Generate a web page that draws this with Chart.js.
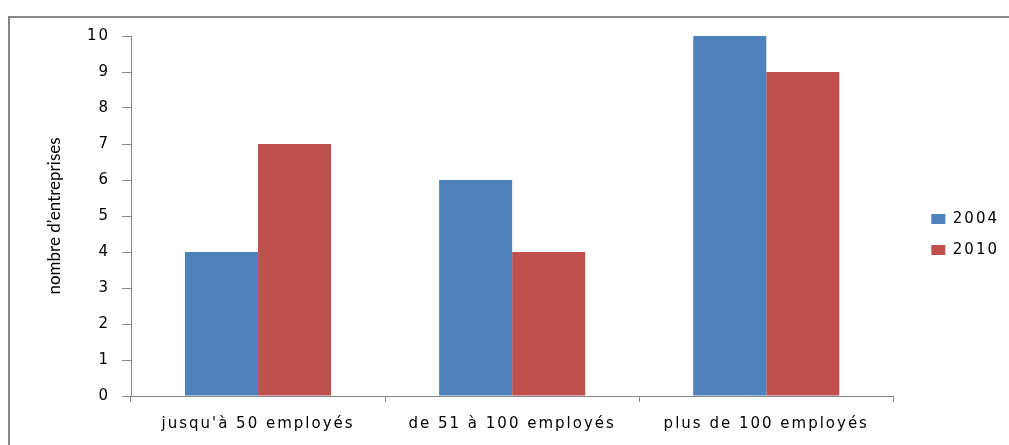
<!DOCTYPE html>
<html lang="fr">
<head>
<meta charset="utf-8">
<title>Nombre d'entreprises par taille</title>
<script src="https://cdn.jsdelivr.net/npm/chart.js@4/dist/chart.umd.min.js"></script>
<style>
  html, body { margin: 0; padding: 0; background: #ffffff; overflow: hidden; }
  canvas { display: block; }
</style>
</head>
<body>
<canvas id="chart" width="1009" height="445"></canvas>
<script>
// Company size classes (x axis)
const categories = ["jusqu'à 50 employés", "de 51 à 100 employés", "plus de 100 employés"];
// Survey years
const years = ['2004', '2010'];
// Number of companies per size class
const values2004 = [4, 6, 10];
const values2010 = [7, 4, 9];
// Y axis range
const yTicks = [0, 1, 2, 3, 4, 5, 6, 7, 8, 9, 10];

const FRAME = '#868686';
const TEXT_SPACING = '2px';

// Wide letter spacing for the axis and legend text
function applySpacing(chart) { chart.ctx.letterSpacing = TEXT_SPACING; }
const textSpacing = {
  id: 'textSpacing',
  beforeUpdate: applySpacing,
  beforeLayout: applySpacing,
  beforeDraw: applySpacing,
  afterUpdate(chart) {
    const y = chart.scales.y;
    if (y && !y._plainTitle) {
      const orig = y.drawTitle;
      y.drawTitle = function () {
        const c = this.ctx;
        const prev = c.letterSpacing;
        c.letterSpacing = '0px';
        orig.call(this);
        c.letterSpacing = prev;
      };
      y._plainTitle = true;
    }
  }
};

// Empty layout box keeping a gap between the plot and the legend
const legendGap = {
  id: 'legendGap',
  beforeInit(chart) {
    Chart.layouts.addBox(chart, {
      position: 'right',
      weight: 0,
      fullSize: false,
      options: {},
      width: 22,
      height: 0,
      isHorizontal() { return false; },
      update(maxWidth, maxHeight) { this.width = 22; this.height = maxHeight; },
      getPadding() { return { left: 0, right: 0, top: 0, bottom: 0 }; },
      draw() {}
    });
  }
};

// Outer frame: top and left edges, drawn as filled strips
const frame = {
  id: 'frame',
  beforeDraw(chart) {
    const ctx = chart.ctx;
    ctx.save();
    ctx.fillStyle = FRAME;
    ctx.fillRect(8, 16, chart.width - 8, 2);
    ctx.fillRect(8, 16, 2, chart.height - 16);
    ctx.restore();
  }
};

const tickFont = { family: "'DejaVu Sans', sans-serif", size: 15 };

new Chart(document.getElementById('chart'), {
  type: 'bar',
  data: {
    labels: categories,
    datasets: [
      { label: years[0], data: values2004, backgroundColor: '#4F81BD', borderWidth: 0 },
      { label: years[1], data: values2010, backgroundColor: '#C0504D', borderWidth: 0 }
    ]
  },
  options: {
    responsive: false,
    animation: false,
    devicePixelRatio: 1,
    categoryPercentage: 0.575,
    barPercentage: 1,
    layout: { padding: { top: 36, bottom: 12, left: 0, right: 0 } },
    plugins: {
      tooltip: { enabled: false },
      legend: {
        position: 'right',
        align: 'center',
        labels: {
          color: '#000',
          font: tickFont,
          boxWidth: 14,
          boxHeight: 10,
          padding: 16
        }
      }
    },
    scales: {
      x: {
        type: 'category',
        grid: {
          offset: true,
          drawOnChartArea: false,
          drawTicks: true,
          tickLength: 6,
          color: FRAME
        },
        border: { display: true, color: FRAME, width: 1 },
        ticks: { color: '#000', font: tickFont, padding: 13, maxRotation: 0, autoSkip: false },
        afterFit(scale) { scale.height = 37; }
      },
      y: {
        min: yTicks[0],
        max: yTicks[yTicks.length - 1],
        grid: {
          drawOnChartArea: false,
          drawTicks: true,
          tickLength: 9,
          color: FRAME
        },
        border: { display: true, color: FRAME, width: 1 },
        ticks: { stepSize: 1, color: '#000', font: tickFont, padding: 12 },
        title: {
          display: true,
          text: 'nombre d’entreprises',
          color: '#000',
          font: { family: "Lato, sans-serif", size: 17 },
          padding: { top: 44, bottom: 0 }
        },
        afterFit(scale) { scale.width = 131; }
      }
    }
  },
  plugins: [textSpacing, legendGap, frame]
});
</script>
</body>
</html>
